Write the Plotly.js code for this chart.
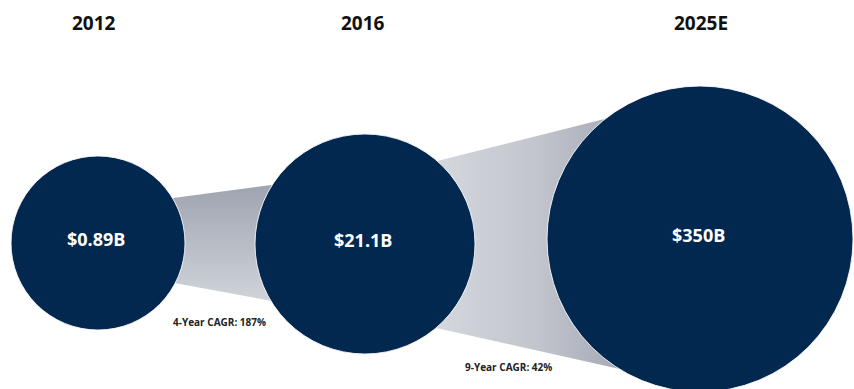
<!DOCTYPE html>
<html>
<head>
<meta charset="utf-8">
<script src="https://cdn.plot.ly/plotly-3.0.1.min.js"></script>
<style>html,body{margin:0;padding:0;background:#fff;}#chart{width:854px;height:389px;}</style>
</head>
<body>
<div id="chart"></div>
<script>
// ---- data ----
const years = ['2012', '2016', '2025E'];
const marketValues = [0.89, 21.1, 350];           // $ billions
const valueLabels = ['$0.89B', '$21.1B', '$350B'];
const cagrLabels = ['4-Year CAGR: 187%', '9-Year CAGR: 42%'];

// ---- layout constants (pixel-like axis units) ----
const cx = [98, 365, 700];
const cy = [243, 244, 239];
const rad = [87, 110, 153];
const coneTop = [[208, 172.5], [179, 95]];
const coneBot = [[269, 318], [312, 387]];
const navy = '#03284f';

const traces = [];
// connecting cones
const coneStyles = [
  {type: 'vertical', start: 175, stop: 315, colorscale: [[0, '#9aa0ac'], [1, '#d6d9df']]},
  {type: 'horizontal', start: 430, stop: 625, colorscale: [[0, '#d6d8de'], [0.55, '#c2c5cd'], [1, '#a3a8b4']]}
];
for (let i = 0; i < 2; i++) {
  const xa = cx[i], xb = cx[i + 1];
  traces.push({
    type: 'scatter', mode: 'lines', hoverinfo: 'skip', showlegend: false,
    x: [xa, xb, xb, xa, xa],
    y: [coneTop[i][0], coneTop[i][1], coneBot[i][1], coneBot[i][0], coneTop[i][0]],
    fill: 'toself', line: {width: 0, color: 'rgba(0,0,0,0)'},
    fillgradient: coneStyles[i]
  });
}

const shapes = years.map((y, i) => ({
  type: 'circle', xref: 'x', yref: 'y', layer: 'above',
  x0: cx[i] - rad[i], x1: cx[i] + rad[i], y0: cy[i] - rad[i], y1: cy[i] + rad[i],
  fillcolor: navy, line: {color: 'rgba(255,255,255,0.85)', width: 1}
}));

const annotations = [];
const yearX = [94, 363, 701];
years.forEach((yr, i) => {
  annotations.push({x: yearX[i], y: 23, xref: 'x', yref: 'y', text: '<b>' + yr + '</b>', showarrow: false,
    font: {family: 'Open Sans, sans-serif', size: 19, color: '#111'}});
  annotations.push({x: cx[i] - 2, y: cy[i] - 4, xref: 'x', yref: 'y', text: '<b>' + valueLabels[i] + '</b>', showarrow: false,
    font: {family: 'Open Sans, sans-serif', size: 18, color: '#ffffff'}});
});
const cagrPos = [[219, 322], [508, 367]];
cagrLabels.forEach((t, i) => {
  annotations.push({x: cagrPos[i][0], y: cagrPos[i][1], xref: 'x', yref: 'y', text: '<b>' + t + '</b>', showarrow: false,
    font: {family: 'Open Sans, sans-serif', size: 10, color: '#222'}});
});

const layout = {
  width: 854, height: 389,
  margin: {l: 0, r: 0, t: 0, b: 0},
  paper_bgcolor: '#ffffff', plot_bgcolor: '#ffffff',
  xaxis: {range: [0, 854], visible: false, fixedrange: true},
  yaxis: {range: [389, 0], visible: false, fixedrange: true},
  shapes: shapes, annotations: annotations, showlegend: false
};
Plotly.newPlot('chart', traces, layout, {displayModeBar: false, staticPlot: true});
</script>
</body>
</html>
